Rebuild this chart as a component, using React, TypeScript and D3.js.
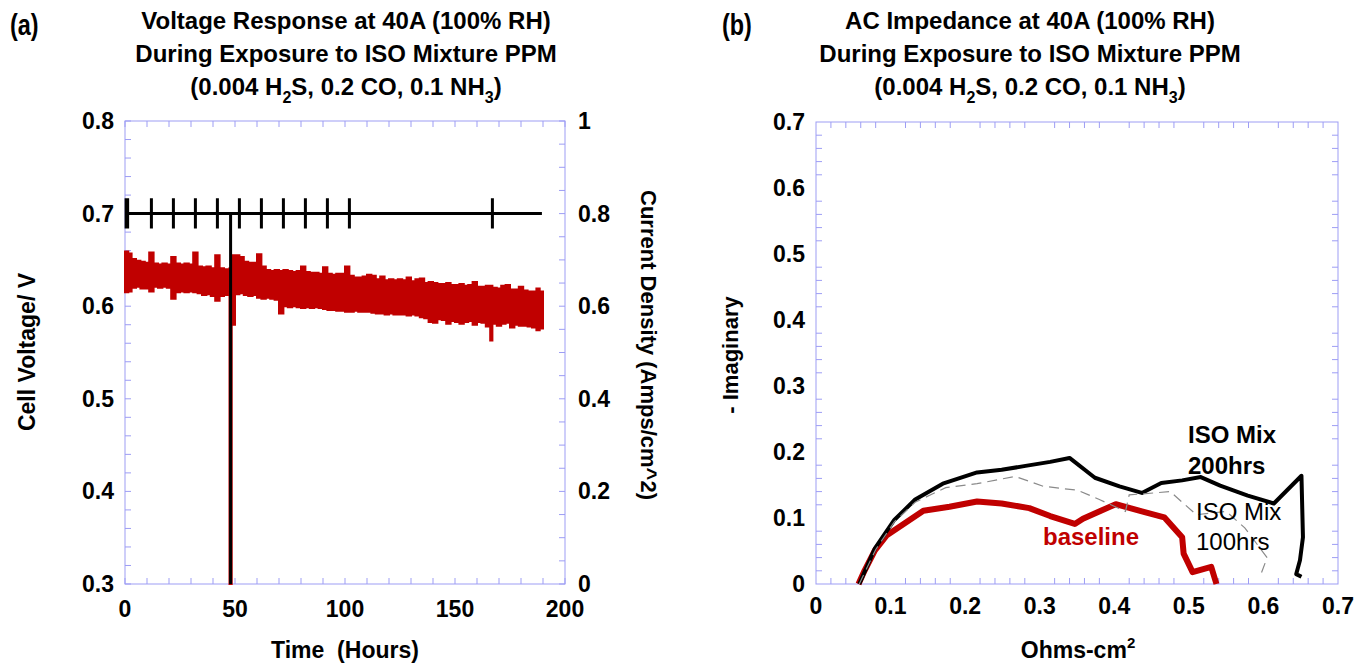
import * as d3 from "d3";

// ---- (a) voltage response: band of the noisy trace, read as low/high per step ----
const voltHours = [
  0, 1.5, 3, 5, 7, 9, 11, 13, 15, 17,
  19, 21, 23, 25, 27, 29, 31, 33, 35, 37,
  39, 41, 43, 45, 47.5, 48.5, 50, 52, 54, 56,
  58, 60, 62, 64, 66, 68, 70, 72, 74, 76,
  78, 80, 82, 84, 86, 88, 90, 92, 94, 96,
  98, 100, 102, 104, 106, 108, 110, 112, 114, 116,
  118, 120, 122, 124, 126, 128, 130, 132, 134, 136,
  138, 140, 142, 144, 146, 148, 150, 152, 154, 156,
  158, 160, 162, 164, 166, 167, 169, 171, 173, 175,
  177, 179, 181, 183, 185, 187, 188.5, 190,
];
const voltLow = [
  0.615, 0.616, 0.62, 0.621, 0.619, 0.619, 0.616, 0.621, 0.62, 0.621,
  0.62, 0.608, 0.615, 0.616, 0.615, 0.616, 0.615, 0.614, 0.612, 0.613,
  0.611, 0.606, 0.611, 0.612, 0.3, 0.58, 0.613, 0.614, 0.612, 0.611,
  0.612, 0.609, 0.608, 0.609, 0.608, 0.607, 0.592, 0.6, 0.599, 0.6,
  0.599, 0.598, 0.599, 0.598, 0.599, 0.598, 0.597, 0.596, 0.596, 0.595,
  0.595, 0.594, 0.594, 0.595, 0.594, 0.594, 0.594, 0.593, 0.592, 0.592,
  0.591, 0.592, 0.591, 0.591, 0.591, 0.59, 0.591, 0.59, 0.588, 0.587,
  0.583, 0.582, 0.586, 0.585, 0.581, 0.584, 0.583, 0.581, 0.583, 0.584,
  0.58, 0.583, 0.582, 0.578, 0.563, 0.581, 0.579, 0.581, 0.582, 0.577,
  0.58, 0.579, 0.579, 0.578, 0.577, 0.574, 0.576, 0.578,
];
const voltHigh = [
  0.659, 0.657, 0.651, 0.649, 0.648, 0.647, 0.658, 0.646, 0.645, 0.646,
  0.645, 0.653, 0.646, 0.645, 0.646, 0.645, 0.658, 0.643, 0.642, 0.643,
  0.641, 0.655, 0.641, 0.64, 0.641, 0.655, 0.655, 0.653, 0.648, 0.647,
  0.647, 0.656, 0.643, 0.639, 0.638, 0.639, 0.638, 0.639, 0.638, 0.637,
  0.638, 0.643, 0.637, 0.636, 0.636, 0.635, 0.642, 0.635, 0.634, 0.635,
  0.635, 0.643, 0.633, 0.631, 0.631, 0.632, 0.634, 0.633, 0.629, 0.632,
  0.628, 0.629, 0.628, 0.629, 0.628, 0.631, 0.627, 0.629, 0.63, 0.625,
  0.626, 0.625, 0.624, 0.624, 0.625, 0.623, 0.623, 0.624, 0.622, 0.623,
  0.626, 0.621, 0.621, 0.622, 0.622, 0.62, 0.619, 0.622, 0.623, 0.618,
  0.618, 0.621, 0.617, 0.616, 0.616, 0.619, 0.616, 0.615,
];

// current density trace: held at 0.8 with short sweeps, one shutdown
const sweepHours = [0.5, 1.2, 12, 22, 32, 42, 52, 62, 72, 82, 92, 102, 167];
const sweepRange = [0.768, 0.833];
const holdCurrent = 0.8;
const shutdownHour = 48;
const currentSpan = [0.5, 189.5];

// ---- (b) AC impedance (Nyquist) ----
const baseRe = [0.057, 0.065, 0.079, 0.095, 0.119, 0.144, 0.179, 0.216, 0.249, 0.286, 0.314, 0.347, 0.358, 0.402, 0.437, 0.467, 0.491, 0.493, 0.505, 0.53, 0.537];
const baseIm = [0, 0.02, 0.051, 0.074, 0.092, 0.111, 0.117, 0.125, 0.122, 0.115, 0.103, 0.091, 0.099, 0.121, 0.11, 0.101, 0.071, 0.046, 0.018, 0.026, 0];
const iso200Re = [0.058, 0.079, 0.105, 0.133, 0.17, 0.216, 0.249, 0.281, 0.314, 0.34, 0.374, 0.407, 0.437, 0.463, 0.491, 0.516, 0.542, 0.579, 0.614, 0.651, 0.653, 0.649, 0.644, 0.651];
const iso200Im = [0, 0.054, 0.097, 0.128, 0.152, 0.169, 0.173, 0.179, 0.185, 0.191, 0.161, 0.148, 0.138, 0.153, 0.157, 0.162, 0.149, 0.134, 0.122, 0.164, 0.071, 0.036, 0.015, 0.011];
const iso100Re = [0.058, 0.08, 0.105, 0.133, 0.174, 0.216, 0.267, 0.305, 0.351, 0.38, 0.415, 0.42, 0.475, 0.51, 0.55, 0.575, 0.605, 0.595];
const iso100Im = [0, 0.052, 0.094, 0.124, 0.146, 0.152, 0.163, 0.148, 0.142, 0.128, 0.11, 0.135, 0.14, 0.105, 0.11, 0.085, 0.04, 0.01];

// tick labels
const hourTicks = [0, 50, 100, 150, 200];
const voltTicks = [0.3, 0.4, 0.5, 0.6, 0.7, 0.8];
const currentTicks = [0, 0.2, 0.4, 0.6, 0.8, 1];
const ohmTicks = [0, 0.1, 0.2, 0.3, 0.4, 0.5, 0.6, 0.7];

const FONT = "'Liberation Sans', Arial, sans-serif";
const FRAME = "#9d9df4";
const RED = "#c00000";
const TICK = 6;

const fmt = (v: number) => (v === 0 ? "0" : v === 1 ? "1" : d3.format(".1f")(v));

export default function App() {
  const xT = d3.scaleLinear().domain([0, 200]).range([125, 565]);
  const yV = d3.scaleLinear().domain([0.3, 0.8]).range([584, 121]);
  const yI = d3.scaleLinear().domain([0, 1]).range([584, 121]);
  const xZ = d3.scaleLinear().domain([0, 0.7]).range([816, 1338]);
  const yZ = d3.scaleLinear().domain([0, 0.7]).range([584, 122]);

  const band = voltHours.map((t, i) => ({ t, lo: voltLow[i], hi: voltHigh[i] }));
  const bandPath = d3
    .area<any>()
    .x((d) => xT(d.t))
    .y0((d) => yV(d.lo))
    .y1((d) => yV(d.hi))
    .curve(d3.curveStepAfter)(band);

  const events = [
    ...sweepHours.map((t) => ({ t, off: false })),
    { t: shutdownHour, off: true },
  ].sort((a, b) => a.t - b.t);
  const cur: [number, number][] = [[currentSpan[0], holdCurrent]];
  events.forEach((e) => {
    if (e.off) cur.push([e.t, holdCurrent], [e.t, 0], [e.t, holdCurrent]);
    else cur.push([e.t, holdCurrent], [e.t, sweepRange[1]], [e.t, sweepRange[0]], [e.t, holdCurrent]);
  });
  cur.push([currentSpan[1], holdCurrent]);
  const curPath = d3.line().x((d) => xT(d[0])).y((d) => yI(d[1]))(cur);

  const nyq = (re: number[], im: number[]) =>
    d3.line<number>().x((d) => xZ(d)).y((_, i) => yZ(im[i]))(re);

  const isMajor = (v: number) => Math.abs(v * 10 - Math.round(v * 10)) < 1e-6;
  const zMinor = xZ.ticks(35).filter((v) => !isMajor(v));

  const lbl = { fontFamily: FONT, fontWeight: "bold", fontSize: 23, fill: "#000" } as const;
  const title = { fontFamily: FONT, fontWeight: "bold", fontSize: 24, fill: "#000" } as const;

  const Title = ({ cx, first }: { cx: number; first: string }) => (
    <g style={title} textAnchor="middle">
      <text x={cx} y={29}>{first}</text>
      <text x={cx} y={62}>During Exposure to ISO Mixture PPM</text>
      <text x={cx} y={95}>
        (0.004 H<tspan fontSize={16} dy={8}>2</tspan>
        <tspan dy={-8}>S, 0.2 CO, 0.1 NH</tspan>
        <tspan fontSize={16} dy={8}>3</tspan>
        <tspan dy={-8}>)</tspan>
      </text>
    </g>
  );

  return (
    <svg width={1361} height={663} style={{ position: "absolute", left: 0, top: 0, background: "#fff" }}>
      {/* panel letters */}
      <text x={10} y={35} transform="translate(10 0) scale(0.78 1) translate(-10 0)" style={{ fontFamily: FONT, fontSize: 30, fontWeight: "bold" }}>(a)</text>
      <text x={722} y={35} transform="translate(722 0) scale(0.78 1) translate(-722 0)" style={{ fontFamily: FONT, fontSize: 30, fontWeight: "bold" }}>(b)</text>

      <Title cx={346} first="Voltage Response at 40A (100% RH)" />
      <Title cx={1030} first="AC Impedance at 40A (100% RH)" />

      {/* ---------- left panel ---------- */}
      <g stroke={FRAME} strokeWidth={1}>
        <rect x={125} y={121} width={440} height={463} fill="none" />
        {yV.ticks(25).map((v, i) => (
          <line key={"lv" + i} x1={125} x2={125 + TICK} y1={yV(v)} y2={yV(v)} />
        ))}
        {yI.ticks(20).map((v, i) => (
          <line key={"li" + i} x1={565} x2={565 - TICK} y1={yI(v)} y2={yI(v)} />
        ))}
        {xT.ticks(20).map((v, i) => (
          <g key={"lx" + i}>
            <line x1={xT(v)} x2={xT(v)} y1={584} y2={584 - TICK} />
            <line x1={xT(v)} x2={xT(v)} y1={121} y2={121 + TICK} />
          </g>
        ))}
      </g>

      <path d={bandPath ?? ""} fill={RED} stroke={RED} strokeWidth={2} strokeLinejoin="miter" />
      <path d={curPath ?? ""} fill="none" stroke="#000" strokeWidth={3} />

      <g style={lbl}>
        {voltTicks.map((v) => (
          <text key={"vt" + v} x={114} y={yV(v) + 8} textAnchor="end">{fmt(v)}</text>
        ))}
        {currentTicks.map((v) => (
          <text key={"ct" + v} x={578} y={yI(v) + 8} textAnchor="start">{fmt(v)}</text>
        ))}
        {hourTicks.map((v) => (
          <text key={"ht" + v} x={xT(v)} y={617} textAnchor="middle">{v}</text>
        ))}
        <text x={345} y={658} textAnchor="middle" style={{ whiteSpace: "pre" }}>Time  (Hours)</text>
        <text transform="translate(35 352) rotate(-90)" textAnchor="middle">Cell Voltage/ V</text>
        <text transform="translate(641 345) rotate(90)" textAnchor="middle" fontSize={22}>Current Density (Amps/cm^2)</text>
      </g>

      {/* ---------- right panel ---------- */}
      <g stroke={FRAME} strokeWidth={1}>
        <rect x={816} y={122} width={522} height={462} fill="none" />
        {zMinor.map((v, i) => (
          <g key={"zm" + i}>
            <line x1={xZ(v)} x2={xZ(v)} y1={584} y2={584 - TICK} />
            <line x1={xZ(v)} x2={xZ(v)} y1={122} y2={122 + TICK} />
            <line x1={816} x2={816 + TICK} y1={yZ(v)} y2={yZ(v)} />
            <line x1={1338} x2={1338 - TICK} y1={yZ(v)} y2={yZ(v)} />
          </g>
        ))}
      </g>

      <path d={nyq(baseRe, baseIm) ?? ""} fill="none" stroke={RED} strokeWidth={6} strokeLinejoin="round" />
      <path d={nyq(iso200Re, iso200Im) ?? ""} fill="none" stroke="#000" strokeWidth={4} strokeLinejoin="round" />
      <path d={nyq(iso100Re, iso100Im) ?? ""} fill="none" stroke="#8a8a8a" strokeWidth={1.2} strokeDasharray="10 6" />

      <g style={lbl}>
        {ohmTicks.map((v) => (
          <text key={"zy" + v} x={805} y={yZ(v) + 8} textAnchor="end">{fmt(v)}</text>
        ))}
        {ohmTicks.map((v) => (
          <text key={"zx" + v} x={xZ(v)} y={614} textAnchor="middle">{fmt(v)}</text>
        ))}
        <text x={1078} y={658} textAnchor="middle">
          Ohms-cm<tspan fontSize={15} dy={-10}>2</tspan>
        </text>
        <text transform="translate(738 355) rotate(-90)" textAnchor="middle" fontSize={22}>- Imaginary</text>
      </g>

      <g style={{ fontFamily: FONT, fontSize: 24 }}>
        <text x={1188} y={443} fontWeight="bold">ISO Mix</text>
        <text x={1188} y={474} fontWeight="bold">200hrs</text>
        <text x={1196} y={520}>ISO Mix</text>
        <text x={1196} y={550}>100hrs</text>
        <text x={1043} y={545} fontWeight="bold" fill={RED}>baseline</text>
      </g>
    </svg>
  );
}
